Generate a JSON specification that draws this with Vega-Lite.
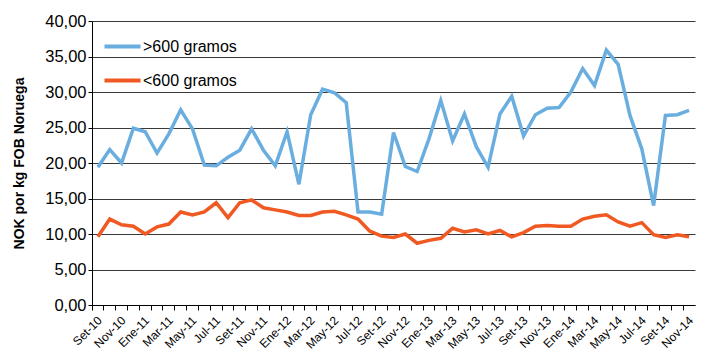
{
  "$schema": "https://vega.github.io/schema/vega-lite/v6.json",
  "width": 603,
  "height": 284,
  "autosize": {"type": "none"},
  "padding": {"left": 92, "top": 21, "right": 13, "bottom": 48},
  "background": "white",
  "config": {
    "view": {"stroke": null},
    "font": "Liberation Sans"
  },
  "data": {
    "values": [
      {"mes": "Set-10", "serie": ">600 gramos", "valor": 19.4},
      {"mes": "Oct-10", "serie": ">600 gramos", "valor": 21.9},
      {"mes": "Nov-10", "serie": ">600 gramos", "valor": 20.0},
      {"mes": "Dic-10", "serie": ">600 gramos", "valor": 24.9},
      {"mes": "Ene-11", "serie": ">600 gramos", "valor": 24.4},
      {"mes": "Feb-11", "serie": ">600 gramos", "valor": 21.4},
      {"mes": "Mar-11", "serie": ">600 gramos", "valor": 24.1},
      {"mes": "Abr-11", "serie": ">600 gramos", "valor": 27.5},
      {"mes": "May-11", "serie": ">600 gramos", "valor": 24.8},
      {"mes": "Jun-11", "serie": ">600 gramos", "valor": 19.7},
      {"mes": "Jul-11", "serie": ">600 gramos", "valor": 19.6},
      {"mes": "Ago-11", "serie": ">600 gramos", "valor": 20.8},
      {"mes": "Set-11", "serie": ">600 gramos", "valor": 21.8},
      {"mes": "Oct-11", "serie": ">600 gramos", "valor": 24.8},
      {"mes": "Nov-11", "serie": ">600 gramos", "valor": 21.8},
      {"mes": "Dic-11", "serie": ">600 gramos", "valor": 19.6},
      {"mes": "Ene-12", "serie": ">600 gramos", "valor": 24.4},
      {"mes": "Feb-12", "serie": ">600 gramos", "valor": 17.0},
      {"mes": "Mar-12", "serie": ">600 gramos", "valor": 26.8},
      {"mes": "Abr-12", "serie": ">600 gramos", "valor": 30.4},
      {"mes": "May-12", "serie": ">600 gramos", "valor": 29.9},
      {"mes": "Jun-12", "serie": ">600 gramos", "valor": 28.5},
      {"mes": "Jul-12", "serie": ">600 gramos", "valor": 13.1},
      {"mes": "Ago-12", "serie": ">600 gramos", "valor": 13.1},
      {"mes": "Set-12", "serie": ">600 gramos", "valor": 12.8},
      {"mes": "Oct-12", "serie": ">600 gramos", "valor": 24.3},
      {"mes": "Nov-12", "serie": ">600 gramos", "valor": 19.5},
      {"mes": "Dic-12", "serie": ">600 gramos", "valor": 18.8},
      {"mes": "Ene-13", "serie": ">600 gramos", "valor": 23.4},
      {"mes": "Feb-13", "serie": ">600 gramos", "valor": 28.8},
      {"mes": "Mar-13", "serie": ">600 gramos", "valor": 23.1},
      {"mes": "Abr-13", "serie": ">600 gramos", "valor": 26.9},
      {"mes": "May-13", "serie": ">600 gramos", "valor": 22.3},
      {"mes": "Jun-13", "serie": ">600 gramos", "valor": 19.4},
      {"mes": "Jul-13", "serie": ">600 gramos", "valor": 26.9},
      {"mes": "Ago-13", "serie": ">600 gramos", "valor": 29.4},
      {"mes": "Set-13", "serie": ">600 gramos", "valor": 23.8},
      {"mes": "Oct-13", "serie": ">600 gramos", "valor": 26.8},
      {"mes": "Nov-13", "serie": ">600 gramos", "valor": 27.7},
      {"mes": "Dic-13", "serie": ">600 gramos", "valor": 27.8},
      {"mes": "Ene-14", "serie": ">600 gramos", "valor": 30.0},
      {"mes": "Feb-14", "serie": ">600 gramos", "valor": 33.3},
      {"mes": "Mar-14", "serie": ">600 gramos", "valor": 30.9},
      {"mes": "Abr-14", "serie": ">600 gramos", "valor": 35.9},
      {"mes": "May-14", "serie": ">600 gramos", "valor": 33.9},
      {"mes": "Jun-14", "serie": ">600 gramos", "valor": 26.7},
      {"mes": "Jul-14", "serie": ">600 gramos", "valor": 22.0},
      {"mes": "Ago-14", "serie": ">600 gramos", "valor": 14.0},
      {"mes": "Set-14", "serie": ">600 gramos", "valor": 26.7},
      {"mes": "Oct-14", "serie": ">600 gramos", "valor": 26.8},
      {"mes": "Nov-14", "serie": ">600 gramos", "valor": 27.4},
      {"mes": "Set-10", "serie": "<600 gramos", "valor": 9.6},
      {"mes": "Oct-10", "serie": "<600 gramos", "valor": 12.1},
      {"mes": "Nov-10", "serie": "<600 gramos", "valor": 11.3},
      {"mes": "Dic-10", "serie": "<600 gramos", "valor": 11.1},
      {"mes": "Ene-11", "serie": "<600 gramos", "valor": 10.0},
      {"mes": "Feb-11", "serie": "<600 gramos", "valor": 11.0},
      {"mes": "Mar-11", "serie": "<600 gramos", "valor": 11.4},
      {"mes": "Abr-11", "serie": "<600 gramos", "valor": 13.1},
      {"mes": "May-11", "serie": "<600 gramos", "valor": 12.7},
      {"mes": "Jun-11", "serie": "<600 gramos", "valor": 13.1},
      {"mes": "Jul-11", "serie": "<600 gramos", "valor": 14.4},
      {"mes": "Ago-11", "serie": "<600 gramos", "valor": 12.3},
      {"mes": "Set-11", "serie": "<600 gramos", "valor": 14.4},
      {"mes": "Oct-11", "serie": "<600 gramos", "valor": 14.8},
      {"mes": "Nov-11", "serie": "<600 gramos", "valor": 13.7},
      {"mes": "Dic-11", "serie": "<600 gramos", "valor": 13.4},
      {"mes": "Ene-12", "serie": "<600 gramos", "valor": 13.1},
      {"mes": "Feb-12", "serie": "<600 gramos", "valor": 12.6},
      {"mes": "Mar-12", "serie": "<600 gramos", "valor": 12.6},
      {"mes": "Abr-12", "serie": "<600 gramos", "valor": 13.1},
      {"mes": "May-12", "serie": "<600 gramos", "valor": 13.2},
      {"mes": "Jun-12", "serie": "<600 gramos", "valor": 12.7},
      {"mes": "Jul-12", "serie": "<600 gramos", "valor": 12.1},
      {"mes": "Ago-12", "serie": "<600 gramos", "valor": 10.4},
      {"mes": "Set-12", "serie": "<600 gramos", "valor": 9.7},
      {"mes": "Oct-12", "serie": "<600 gramos", "valor": 9.5},
      {"mes": "Nov-12", "serie": "<600 gramos", "valor": 10.0},
      {"mes": "Dic-12", "serie": "<600 gramos", "valor": 8.7},
      {"mes": "Ene-13", "serie": "<600 gramos", "valor": 9.1},
      {"mes": "Feb-13", "serie": "<600 gramos", "valor": 9.4},
      {"mes": "Mar-13", "serie": "<600 gramos", "valor": 10.8},
      {"mes": "Abr-13", "serie": "<600 gramos", "valor": 10.3},
      {"mes": "May-13", "serie": "<600 gramos", "valor": 10.6},
      {"mes": "Jun-13", "serie": "<600 gramos", "valor": 10.0},
      {"mes": "Jul-13", "serie": "<600 gramos", "valor": 10.5},
      {"mes": "Ago-13", "serie": "<600 gramos", "valor": 9.6},
      {"mes": "Set-13", "serie": "<600 gramos", "valor": 10.2},
      {"mes": "Oct-13", "serie": "<600 gramos", "valor": 11.1},
      {"mes": "Nov-13", "serie": "<600 gramos", "valor": 11.2},
      {"mes": "Dic-13", "serie": "<600 gramos", "valor": 11.1},
      {"mes": "Ene-14", "serie": "<600 gramos", "valor": 11.1},
      {"mes": "Feb-14", "serie": "<600 gramos", "valor": 12.1},
      {"mes": "Mar-14", "serie": "<600 gramos", "valor": 12.5},
      {"mes": "Abr-14", "serie": "<600 gramos", "valor": 12.7},
      {"mes": "May-14", "serie": "<600 gramos", "valor": 11.7},
      {"mes": "Jun-14", "serie": "<600 gramos", "valor": 11.1},
      {"mes": "Jul-14", "serie": "<600 gramos", "valor": 11.6},
      {"mes": "Ago-14", "serie": "<600 gramos", "valor": 9.9},
      {"mes": "Set-14", "serie": "<600 gramos", "valor": 9.5},
      {"mes": "Oct-14", "serie": "<600 gramos", "valor": 9.9},
      {"mes": "Nov-14", "serie": "<600 gramos", "valor": 9.6}
    ]
  },
  "mark": {"type": "line", "strokeWidth": 3.5, "strokeJoin": "miter"},
  "encoding": {
    "x": {
      "field": "mes",
      "type": "ordinal",
      "sort": null,
      "scale": {"type": "band", "paddingInner": 0, "paddingOuter": 0},
      "axis": {
        "title": null,
        "bandPosition": 0,
        "labelOffset": 2,
        "labelAngle": -45,
        "labelAlign": "right",
        "labelBaseline": "middle",
        "labelFontSize": 12,
        "labelColor": "#000000",
        "labelPadding": 8,
        "labelExpr": "indexof(['Ene','Mar','May','Jul','Set','Nov'], slice(datum.value,0,3)) >= 0 ? datum.value : ''",
        "labelOverlap": false,
        "domainColor": "#000000",
        "domainWidth": 1,
        "tickColor": "#000000",
        "tickSize": 5,
        "grid": false
      }
    },
    "y": {
      "field": "valor",
      "type": "quantitative",
      "scale": {"domain": [0, 40], "nice": false},
      "axis": {
        "title": "NOK por kg FOB Noruega",
        "titleFontSize": 14,
        "titleFontWeight": "bold",
        "titleColor": "#000000",
        "titlePadding": 18,
        "values": [0, 5, 10, 15, 20, 25, 30, 35, 40],
        "labelExpr": "replace(format(datum.value, '.2f'), '.', ',')",
        "labelFontSize": 16.5,
        "labelColor": "#000000",
        "labelPadding": 2,
        "tickSize": 4,
        "tickColor": "#000000",
        "domainColor": "#000000",
        "grid": true,
        "gridColor": "#3a3a3a",
        "gridWidth": 1
      }
    },
    "color": {
      "field": "serie",
      "type": "nominal",
      "scale": {"domain": [">600 gramos", "<600 gramos"], "range": ["#6aaee0", "#f05a22"]},
      "legend": {
        "title": null,
        "orient": "none",
        "legendX": 10,
        "legendY": 5,
        "symbolType": "stroke",
        "symbolSize": 1300,
        "symbolStrokeWidth": 4,
        "labelFontSize": 16,
        "labelColor": "#000000",
        "labelOffset": 0,
        "rowPadding": 5
      }
    }
  }
}
